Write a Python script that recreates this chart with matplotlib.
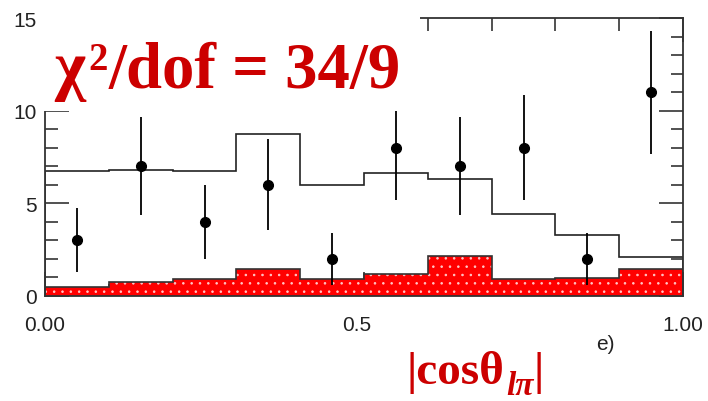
import matplotlib
matplotlib.use("Agg")
import matplotlib.pyplot as plt
from matplotlib.patches import Rectangle
from matplotlib.ticker import MultipleLocator
from matplotlib.transforms import ScaledTranslation
import numpy as np

# |cos theta_l pi| distribution, 10 bins
bin_edges = [0.0, 0.1, 0.2, 0.3, 0.4, 0.5, 0.6, 0.7, 0.8, 0.9, 1.0]
data_counts = [3, 7, 4, 6, 2, 8, 7, 8, 2, 11]
total_fit = [6.76, 6.81, 6.74, 8.76, 5.98, 6.61, 6.33, 4.43, 3.26, 2.11]
background = [0.45, 0.74, 0.90, 1.44, 0.90, 1.17, 2.16, 0.90, 0.96, 1.44]
chi2_text = "34/9"

W, H = 708, 402
fig = plt.figure(figsize=(W / 100, H / 100), dpi=100)
ax = fig.add_axes([45 / W, (H - 296.7) / H, 638 / W, (296.7 - 19.3) / H])
ax.set_axisbelow(True)

edges = np.array(bin_edges)
centres = 0.5 * (edges[:-1] + edges[1:])
counts = np.array(data_counts, dtype=float)

# background histogram, filled red with faint dots
plt.rcParams["hatch.linewidth"] = 0.6
ax.stairs(background, edges, fill=True, facecolor="#ff0000", edgecolor="#ffc8c8",
          hatch="..", linewidth=0, zorder=1)
ax.stairs(background, edges, color="#333333", linewidth=1.2, zorder=1.5)

# total fit histogram
ax.stairs(total_fit, edges, color="#222222", linewidth=1.2, zorder=2)

# data points with sqrt(N) errors
ax.errorbar(centres, counts, yerr=np.sqrt(counts), fmt="o", color="black",
            markersize=7, elinewidth=1.3, capsize=0, zorder=3)

ax.set_xlim(0, 1)
ax.set_ylim(0, 15)
ax.xaxis.set_minor_locator(MultipleLocator(0.1))
ax.yaxis.set_major_locator(MultipleLocator(5))
ax.yaxis.set_minor_locator(MultipleLocator(1))
ax.set_xticks([0, 0.5, 1.0])
ax.set_xticklabels(["0.00", "0.5", "1.00"])
ax.tick_params(which="both", direction="in", top=True, right=True,
               color="#333333", width=1.2, labelsize=15, labelcolor="#222222")
ax.tick_params(which="major", length=17)
ax.tick_params(which="minor", length=9)
ax.tick_params(axis="y", pad=6)
ax.tick_params(axis="x", pad=14)
for lab in ax.get_xticklabels() + ax.get_yticklabels():
    lab.set_fontfamily("Liberation Sans")
mid = ax.get_xticklabels()[1]
mid.set_transform(mid.get_transform() + ScaledTranslation(-0.07, 0, fig.dpi_scale_trans))
for s in ax.spines.values():
    s.set_color("#333333")
    s.set_linewidth(1.3)

# white panel behind the fit-quality label
fig.add_artist(Rectangle((43 / W, (H - 111.5) / H), (420 - 43) / W, 111.5 / H,
                         transform=fig.transFigure, facecolor="white",
                         edgecolor="none", zorder=5))

red = "#cc0000"
serif = "Liberation Serif"
renderer = fig.canvas.get_renderer()


def text_run(x, y, pieces):
    """Place text pieces one after another; x, y in pixels from top-left,
    dx adds a gap before a piece, dy raises it above the baseline."""
    for s, size, dx, dy, style in pieces:
        t = fig.text((x + dx) / W, (H - y + dy) / H, s, fontsize=size,
                     fontweight="bold", style=style, family=serif, color=red,
                     zorder=6, va="baseline")
        x = t.get_window_extent(renderer).x1


text_run(54, 88, [("\u03c7", 48, 0, 0, "normal"),
                  ("2", 28, 4, 18, "normal"),
                  ("/dof = " + chi2_text, 46.5, 0, 0, "normal")])

# axis label: |cos theta| with l pi subscript
text_run(407, 384, [("|cos\u03b8", 34, 0, 0, "normal"),
                    ("l\u03c0", 24, 1, -11, "italic"),
                    ("|", 34, 0, 0, "normal")])

fig.text(596 / W, (H - 350) / H, "e)", fontsize=15, family="Liberation Sans",
         color="#222222")

fig.savefig("out.png", dpi=100)
